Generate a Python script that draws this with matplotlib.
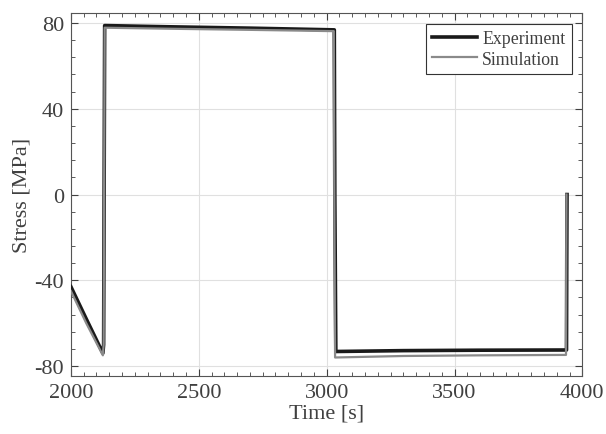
import matplotlib.pyplot as plt
from matplotlib.ticker import MultipleLocator

# experiment: time [s], stress [MPa]
exp_t = [2000, 2060, 2125, 2128, 2132, 2400, 2700, 3030, 3032, 3036, 3300, 3600, 3938, 3939, 3940]
exp_s = [-43, -58, -74, -70, 78.8, 78.2, 77.6, 76.8, 0, -73.2, -72.8, -72.6, -72.5, -30, 0]

sim_t = [2000, 2060, 2125, 2128, 2132, 2400, 2700, 3028, 3030, 3033, 3300, 3600, 3936, 3937, 3938]
sim_s = [-45, -60, -75, -70, 77.8, 77.3, 76.8, 76.2, 0, -76.0, -75.3, -75.0, -74.8, -30, 0]

plt.rcParams['font.family'] = ['Liberation Serif']
plt.rcParams['axes.unicode_minus'] = False
plt.rcParams['text.color'] = '#404040'
plt.rcParams['axes.labelcolor'] = '#404040'
plt.rcParams['xtick.color'] = '#404040'
plt.rcParams['ytick.color'] = '#404040'

fig, ax = plt.subplots(figsize=(6.06, 4.35), dpi=100)
fig.subplots_adjust(left=0.117, right=0.961, top=0.968, bottom=0.133)

ax.plot(exp_t, exp_s, color='#1a1a1a', lw=2.6, label='Experiment', zorder=3)
ax.plot(sim_t, sim_s, color='#8a8a8a', lw=1.6, label='Simulation', zorder=4)

ax.set_xlim(2000, 4000)
ax.set_ylim(-84.7, 84.7)
ax.xaxis.set_major_locator(MultipleLocator(500))
ax.xaxis.set_minor_locator(MultipleLocator(50))
ax.yaxis.set_major_locator(MultipleLocator(40))
ax.yaxis.set_minor_locator(MultipleLocator(8))
ax.tick_params(which='both', direction='in', top=True, right=True, labelsize=16)
ax.tick_params(which='major', length=5, pad=5)
ax.tick_params(which='minor', length=3)
ax.grid(True, color='#e0e0e0', lw=0.8)
ax.set_axisbelow(True)
for sp in ax.spines.values():
    sp.set_color('#555555')

ax.set_xlabel('Time [s]', fontsize=16, labelpad=1)
ax.set_ylabel('Stress [MPa]', fontsize=16, labelpad=2)

leg = ax.legend(loc='upper right', fontsize=12.8, fancybox=False, framealpha=1,
                edgecolor='#333333', handlelength=2.5, borderpad=0.35,
                labelspacing=0.22, handletextpad=0.3, borderaxespad=0.6)
leg.get_frame().set_linewidth(0.8)

fig.savefig('out.png')
